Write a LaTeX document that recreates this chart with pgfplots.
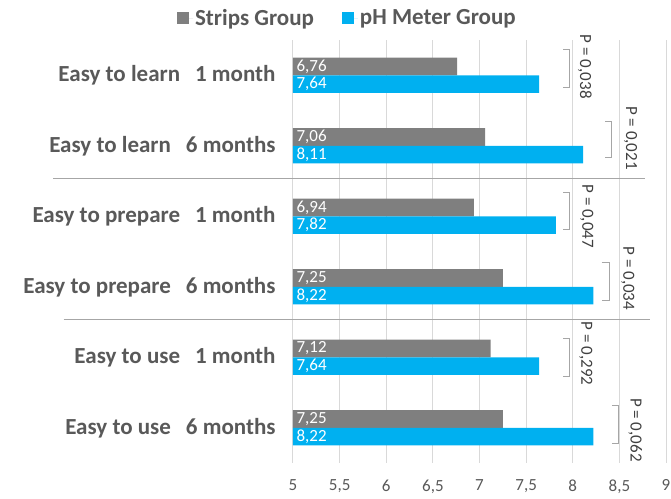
\documentclass[border=0pt]{standalone}
\usepackage{fontspec}
\setmainfont{Carlito}
\usepackage{pgfplots}
\pgfplotsset{compat=1.18}
\usepackage{pgfplotstable}
\definecolor{stripgray}{HTML}{7F7F7F}
\definecolor{phcyan}{HTML}{00B0F0}
\definecolor{labgray}{HTML}{595959}
\definecolor{gridgray}{HTML}{D9D9D9}
\definecolor{sepgray}{HTML}{A6A6A6}
\definecolor{ptext}{HTML}{404040}

\pgfplotstableread{
y strips ph
0 6.76 7.64
1 7.06 8.11
2 6.94 7.82
3 7.25 8.22
4 7.12 7.64
5 7.25 8.22
}\data

\begin{document}
\begin{tikzpicture}
\begin{axis}[
  scale only axis, width=373pt, height=423pt,
  at={(0pt,0pt)}, anchor=south west,
  xmin=5, xmax=9, ymin=-0.5, ymax=5.5, y dir=reverse,
  clip mode=individual,
  xtick={5,5.5,6,6.5,7,7.5,8,8.5,9},
  ytick={0,1,2,3,4,5},
  yticklabels={
    Easy to learn\hspace{15pt}1 month,
    Easy to learn\hspace{15pt}6 months,
    Easy to prepare\hspace{15pt}1 month,
    Easy to prepare\hspace{15pt}6 months,
    Easy to use\hspace{15pt}1 month,
    Easy to use\hspace{15pt}6 months},
  axis line style={draw=none},
  major tick length=0pt,
  tick style={draw=none},
  xmajorgrids, ymajorgrids=false,
  grid style={gridgray, line width=1pt},
  /pgf/number format/assume math mode=true,
  /pgf/number format/use comma,
  /pgf/number format/1000 sep={},
  xticklabel style={font=\fontsize{17}{20}\selectfont, text=labgray, yshift=-13pt},
  yticklabel style={font=\fontsize{23}{27}\selectfont\bfseries, text=labgray, anchor=east, xshift=-14pt},
  legend style={draw=none, fill=none, at={(axis description cs:0.146,1.052)}, anchor=center,
    legend columns=2, font=\fontsize{23}{27}\selectfont\bfseries, text=labgray,
    /tikz/every even column/.append style={column sep=26pt}},
  legend image code/.code={\fill[#1,draw=none] (0pt,-6pt) rectangle (12pt,6pt); \path (0pt,0pt) -- (16pt,0pt);},
]
\addplot[xbar, bar width=0.25, bar shift=-0.125, fill=stripgray, draw=none]
  table[x=strips, y=y]{\data};
\addlegendentry{Strips Group}
\addplot[xbar, bar width=0.25, bar shift=0.125, fill=phcyan, draw=none]
  table[x=ph, y=y]{\data};
\addlegendentry{pH Meter Group}

\addplot[draw=none, nodes near coords, point meta=explicit,
  nodes near coords style={anchor=west, font=\fontsize{17}{20}\selectfont, text=white,
    /pgf/number format/.cd, fixed, fixed zerofill, precision=2, use comma, assume math mode=true}]
  table[x expr=5, y expr=\thisrow{y}-0.125, meta=strips]{\data};
\addplot[draw=none, nodes near coords, point meta=explicit,
  nodes near coords style={anchor=west, font=\fontsize{17}{20}\selectfont, text=white,
    /pgf/number format/.cd, fixed, fixed zerofill, precision=2, use comma, assume math mode=true}]
  table[x expr=5, y expr=\thisrow{y}+0.125, meta=ph]{\data};

% separators
\draw[sepgray, line width=1.2pt] (axis cs:2.43,1.47) -- (axis cs:8.78,1.47);
\draw[sepgray, line width=1.2pt] (axis cs:2.54,3.46) -- (axis cs:8.83,3.46);

% brackets
\draw[sepgray, line width=1pt] (axis cs:7.90,-0.36) -- (axis cs:7.97,-0.36) -- (axis cs:7.97,0.17) -- (axis cs:7.90,0.17);
\draw[sepgray, line width=1pt] (axis cs:8.35,0.66) -- (axis cs:8.42,0.66) -- (axis cs:8.42,1.17) -- (axis cs:8.35,1.17);
\draw[sepgray, line width=1pt] (axis cs:7.90,1.66) -- (axis cs:7.97,1.66) -- (axis cs:7.97,2.19) -- (axis cs:7.90,2.19);
\draw[sepgray, line width=1pt] (axis cs:8.31,2.65) -- (axis cs:8.39,2.65) -- (axis cs:8.39,3.19) -- (axis cs:8.31,3.19);
\draw[sepgray, line width=1pt] (axis cs:7.90,3.73) -- (axis cs:7.96,3.73) -- (axis cs:7.96,4.27) -- (axis cs:7.90,4.27);
\draw[sepgray, line width=1pt] (axis cs:8.42,4.69) -- (axis cs:8.49,4.69) -- (axis cs:8.49,5.23) -- (axis cs:8.42,5.23);

% p values
\node[rotate=-90, text=ptext, font=\fontsize{17}{20}\selectfont] at (axis cs:8.13,-0.12) {P = 0,038};
\node[rotate=-90, text=ptext, font=\fontsize{17}{20}\selectfont] at (axis cs:8.62,0.89) {P = 0,021};
\node[rotate=-90, text=ptext, font=\fontsize{17}{20}\selectfont] at (axis cs:8.15,2.00) {P = 0,047};
\node[rotate=-90, text=ptext, font=\fontsize{17}{20}\selectfont] at (axis cs:8.59,2.88) {P = 0,034};
\node[rotate=-90, text=ptext, font=\fontsize{17}{20}\selectfont] at (axis cs:8.14,3.95) {P = 0,292};
\node[rotate=-90, text=ptext, font=\fontsize{17}{20}\selectfont] at (axis cs:8.67,5.03) {P = 0,062};
\end{axis}
\pgfresetboundingbox
\path[use as bounding box] (-293pt,-35pt) rectangle (378pt,463pt);
\end{tikzpicture}
\end{document}
